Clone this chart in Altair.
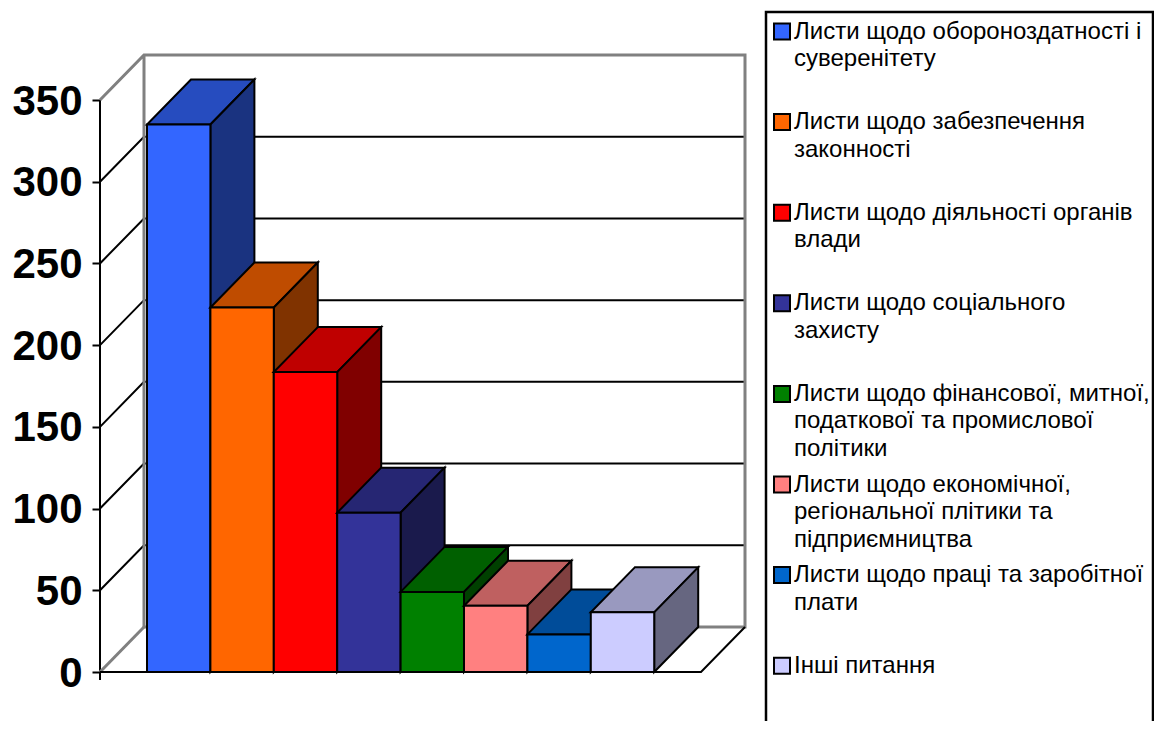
import altair as alt
import pandas as pd

categories = [
    ["Листи щодо обороноздатності і", "суверенітету"],
    ["Листи щодо забезпечення", "законності"],
    ["Листи щодо діяльності органів", "влади"],
    ["Листи щодо соціального", "захисту"],
    ["Листи щодо фінансової, митної,", "податкової та промислової", "політики"],
    ["Листи щодо економічної,", "регіональної плітики та", "підприємництва"],
    ["Листи щодо праці та заробітної", "плати"],
    ["Інші питання"],
]
values = [335, 223, 183.5, 97.5, 49, 40.5, 23, 36.5]
colors = ["#3366FF", "#FF6600", "#FF0000", "#333399", "#008000", "#FF8080", "#0066CC", "#CCCCFF"]
ticks = [0, 50, 100, 150, 200, 250, 300, 350]

# Layout (pixels on the page); the page's right margin limits the chart to x=1154
LEFT, TOP = 100, 8
PAGE_R, PAGE_B = 1154, 721
W, H = PAGE_R - LEFT, PAGE_B - TOP
ZERO_PX = 672
K = 572 / 350                # pixels per value unit
DX, DY = 44, 45 / K          # depth of the 3-D box
BAR0, SLOT = 47, 63.4
FLOOR = 601
FONT = "Liberation Sans"


def py(px):
    return (ZERO_PX - px) / K


def px(x):
    return x - LEFT


def shade(hex_color, f):
    r, g, b = (int(hex_color[i:i + 2], 16) for i in (1, 3, 5))
    return "#%02x%02x%02x" % (round(r * f), round(g * f), round(b * f))


xs = alt.Scale(domain=[0, W], nice=False, zero=False)
ys = alt.Scale(domain=[py(PAGE_B), py(TOP)], nice=False, zero=False)
y_axis = alt.Axis(
    values=ticks, domain=False, grid=False, tickSize=8, tickWidth=2, tickColor="black",
    labelFont=FONT, labelFontSize=42, labelFontWeight="bold", labelColor="black",
    labelPadding=10, labelOffset=1, format="d", labelOverlap=False, labelFlush=False, title=None)


def X(f="x"):
    return alt.X(f + ":Q", scale=xs, axis=None)


def Y(f="y"):
    return alt.Y(f + ":Q", scale=ys, axis=y_axis)


def poly(pts, color, width):
    d = pd.DataFrame({"x": [p[0] for p in pts], "y": [p[1] for p in pts], "o": range(len(pts))})
    return alt.Chart(d).mark_line(color=color, strokeWidth=width, interpolate="linear").encode(
        x=X(), y=Y(), order="o:Q"
    )


layers = []

# Axis line
layers.append(poly([(0, py(680)), (0, 350)], "black", 2))

# Gridlines: along the side wall and along the back wall
for t in ticks[1:-1]:
    layers.append(poly([(0, t), (DX, t + DY), (DX + FLOOR, t + DY)], "black", 2))

# Walls
GRAY = "#808080"
layers.append(poly([(0, 350), (DX, 350 + DY), (DX + FLOOR, 350 + DY), (DX + FLOOR, DY), (DX, DY), (DX, 350 + DY)], GRAY, 3))
layers.append(poly([(0, 0), (DX, DY)], GRAY, 3))
# Floor edge
layers.append(poly([(0, 0), (FLOOR, 0), (FLOOR + DX, DY)], "black", 2))

# Bars
for i, (v, c) in enumerate(zip(values, colors)):
    x0 = BAR0 + i * SLOT
    x1 = x0 + SLOT
    top = pd.DataFrame({
        "y": [v, v + DY],
        "a": [x0, x0 + DX],
        "b": [x1, x1 + DX],
    })
    layers.append(
        alt.Chart(top).mark_area(orient="horizontal", fill=shade(c, 0.75), stroke="black", strokeWidth=2)
        .encode(y=Y(), x=X("a"), x2="b:Q")
    )
    side = pd.DataFrame({
        "x": [x1, x1 + DX],
        "lo": [0, DY],
        "hi": [v, v + DY],
    })
    layers.append(
        alt.Chart(side).mark_area(orient="vertical", fill=shade(c, 0.5), stroke="black", strokeWidth=2)
        .encode(x=X(), y=Y("lo"), y2="hi:Q")
    )
    front = pd.DataFrame({"a": [x0], "b": [x1], "lo": [0], "hi": [v]})
    layers.append(
        alt.Chart(front).mark_rect(fill=c, stroke="black", strokeWidth=2)
        .encode(x=X("a"), x2="b:Q", y=Y("lo"), y2="hi:Q")
    )

# Legend box (runs off the bottom of the page)
layers.append(poly([(px(766), py(PAGE_B)), (px(766), py(12)), (px(1153), py(12)), (px(1153), py(PAGE_B))], "black", 2.5))

# Legend rows
ROW0, ROW_STEP, LINE = 31.5, 90.6, 27.5
rows_sym, rows_txt = [], []
for i, (lines, c) in enumerate(zip(categories, colors)):
    yc = ROW0 + i * ROW_STEP
    rows_sym.append({"a": px(774), "b": px(790), "lo": py(yc + 8), "hi": py(yc - 8), "c": c})
    for j, line in enumerate(lines):
        rows_txt.append({"x": px(794), "y": py(yc + j * LINE), "t": line})

layers.append(
    alt.Chart(pd.DataFrame(rows_sym)).mark_rect(stroke="black", strokeWidth=2).encode(
        x=X("a"), x2="b:Q", y=Y("lo"), y2="hi:Q",
        fill=alt.Fill("c:N", scale=None, legend=None),
    )
)
layers.append(
    alt.Chart(pd.DataFrame(rows_txt)).mark_text(
        align="left", baseline="middle", font=FONT, fontSize=24, color="black"
    ).encode(x=X(), y=Y(), text="t:N")
)

chart = alt.layer(*layers).properties(
    width=W, height=H, background="white",
    autosize=alt.AutoSizeParams(type="none"),
    padding={"left": LEFT - 8, "top": 0, "right": 0, "bottom": 0},
).configure_view(strokeWidth=0)

chart.save("out.html", embed_options={"renderer": "svg", "actions": False})
